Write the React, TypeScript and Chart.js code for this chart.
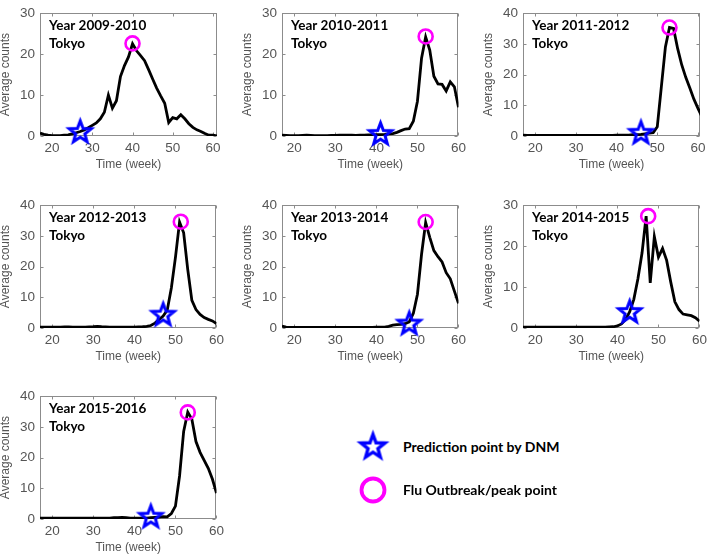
import React, { useEffect, useRef } from "react";
import { Chart, registerables } from "chart.js";

Chart.register(...registerables);

// ---------- data ----------
const weeks = [17, 18, 19, 20, 21, 22, 23, 24, 25, 26, 27, 28, 29, 30, 31, 32, 33, 34, 35, 36, 37, 38, 39, 40, 41, 42, 43, 44, 45, 46, 47, 48, 49, 50, 51, 52, 53, 54, 55, 56, 57, 58, 59, 60, 61];
const xTickValues = [20, 30, 40, 50, 60];

const seasonTitles = ["Year 2009-2010", "Year 2010-2011", "Year 2011-2012", "Year 2012-2013", "Year 2013-2014", "Year 2014-2015", "Year 2015-2016"];
const cityName = "Tokyo";
const xAxisTitle = "Time (week)";
const yAxisTitle = "Average counts";
const legendLabels = ["Prediction point by DNM", "Flu Outbreak/peak point"];

const yMaxes = [30, 30, 40, 40, 40, 30, 40];
const xMaxes = [61, 60, 60.5, 60, 60, 60, 60];

const counts2009_2010 = [0.7, 0.4, 0.2, 0.1, 0.1, 0.1, 0.2, 0.3, 0.5, 0.8, 1.1, 1.5, 2.0, 2.6, 3.2, 4.2, 5.8, 10.0, 6.8, 8.6, 14.5, 17.2, 19.3, 22.5, 20.8, 19.6, 18.4, 16.2, 13.9, 11.7, 9.8, 8.0, 3.3, 4.5, 4.2, 5.2, 4.2, 3.0, 2.1, 1.5, 1.1, 0.6, 0.2, 0.2, 0.0];
const counts2010_2011 = [0.2, 0.15, 0.1, 0.1, 0.1, 0.15, 0.2, 0.15, 0.1, 0.1, 0.1, 0.1, 0.15, 0.15, 0.2, 0.2, 0.2, 0.2, 0.15, 0.2, 0.2, 0.25, 0.25, 0.3, 0.35, 0.4, 0.5, 0.6, 0.9, 1.3, 1.7, 1.8, 3.6, 8.5, 19.0, 24.2, 21.0, 14.6, 12.7, 12.6, 11.0, 13.2, 12.0, 7.0];
const counts2011_2012 = [0.3, 0.2, 0.2, 0.2, 0.2, 0.2, 0.2, 0.2, 0.2, 0.2, 0.2, 0.2, 0.2, 0.2, 0.2, 0.2, 0.2, 0.2, 0.2, 0.2, 0.2, 0.2, 0.2, 0.3, 0.3, 0.3, 0.3, 0.4, 0.4, 0.5, 0.7, 0.9, 1.1, 3.0, 16.0, 29.0, 35.3, 35.0, 28.5, 23.2, 19.1, 15.6, 12.0, 9.0, 6.2];
const counts2012_2013 = [0.3, 0.3, 0.3, 0.3, 0.3, 0.3, 0.35, 0.35, 0.3, 0.3, 0.3, 0.3, 0.35, 0.4, 0.5, 0.4, 0.35, 0.3, 0.3, 0.3, 0.3, 0.3, 0.3, 0.3, 0.35, 0.4, 0.5, 0.8, 1.6, 2.7, 3.9, 5.8, 13.0, 23.0, 34.5, 31.0, 19.0, 9.0, 6.0, 4.4, 3.4, 2.8, 2.3, 1.4];
const counts2013_2014 = [0.6, 0.3, 0.2, 0.2, 0.2, 0.2, 0.2, 0.2, 0.2, 0.2, 0.2, 0.2, 0.2, 0.2, 0.2, 0.2, 0.2, 0.2, 0.2, 0.2, 0.2, 0.2, 0.2, 0.25, 0.3, 0.3, 0.5, 0.9, 1.1, 1.2, 1.4, 2.0, 4.8, 11.0, 24.0, 34.3, 29.5, 25.2, 23.2, 21.5, 18.0, 16.0, 12.0, 8.0];
const counts2014_2015 = [0.2, 0.2, 0.2, 0.2, 0.2, 0.2, 0.2, 0.2, 0.2, 0.2, 0.2, 0.2, 0.2, 0.2, 0.2, 0.2, 0.2, 0.2, 0.2, 0.2, 0.2, 0.25, 0.3, 0.5, 1.0, 2.1, 4.0, 7.0, 12.0, 18.3, 27.3, 11.0, 22.3, 17.3, 19.4, 16.5, 11.2, 6.4, 4.5, 3.4, 3.2, 3.0, 2.5, 1.7];
const counts2015_2016 = [0.3, 0.3, 0.3, 0.3, 0.3, 0.3, 0.3, 0.3, 0.3, 0.3, 0.3, 0.3, 0.3, 0.3, 0.3, 0.3, 0.3, 0.3, 0.4, 0.4, 0.5, 0.4, 0.3, 0.3, 0.3, 0.3, 0.3, 0.4, 0.5, 0.6, 0.8, 0.7, 1.8, 4.2, 14.0, 28.5, 34.8, 32.5, 25.2, 21.7, 19.1, 16.5, 13.0, 8.4];

const predictionWeeks = [27, 41, 46, 47, 48, 43, 44];
const predictionValues = [0.9, 0.4, 0.9, 4.2, 1.3, 3.8, 0.6];
const peakWeeks = [40, 52, 53, 51.3, 52, 47.5, 53];
const peakValues = [22.6, 24.3, 35.3, 34.6, 34.5, 27.3, 34.7];

const seasonCounts = [counts2009_2010, counts2010_2011, counts2011_2012, counts2012_2013, counts2013_2014, counts2014_2015, counts2015_2016];

// ---------- layout / style ----------
const PLOT_W = 180;
const PLOT_H = 131;
const AXIS_L = 40;
const PAD_T = 5;
const PAD_R = 8;
const AXIS_B = 36;
const panelOrigins = [
  { left: 40, top: 5 },
  { left: 282, top: 5 },
  { left: 523, top: 5 },
  { left: 40, top: 197 },
  { left: 282, top: 197 },
  { left: 523, top: 197 },
  { left: 40, top: 388 },
];

const AXIS_FONT = "'Liberation Sans', Arial, sans-serif";
const LABEL_FONT = "Lato, 'Open Sans', sans-serif";
const AXIS_COLOR = "#555555";
const FRAME_COLOR = "#8c8c8c";
const STAR_COLOR = "#0000ff";
const PEAK_COLOR = "#ff00ff";

function makeStarCanvas(R: number, r: number, lw: number, color: string) {
  const size = Math.ceil(2 * (R + 2 * lw) + 2);
  const c = document.createElement("canvas");
  c.width = size;
  c.height = size;
  const ctx = c.getContext("2d")!;
  ctx.translate(size / 2, size / 2);
  ctx.beginPath();
  for (let i = 0; i < 10; i++) {
    const rad = i % 2 === 0 ? R : r;
    const ang = -Math.PI / 2 + (i * Math.PI) / 5;
    const px = rad * Math.cos(ang);
    const py = rad * Math.sin(ang);
    if (i === 0) ctx.moveTo(px, py);
    else ctx.lineTo(px, py);
  }
  ctx.closePath();
  ctx.lineJoin = "miter";
  ctx.strokeStyle = color;
  ctx.lineWidth = lw;
  ctx.stroke();
  return c;
}

const framePlugin = {
  id: "frame",
  beforeDatasetsDraw(chart: any, _args: any, opts: any) {
    const { ctx, chartArea: a, scales } = chart;
    ctx.save();
    ctx.strokeStyle = FRAME_COLOR;
    ctx.lineWidth = 1;
    const L = Math.round(a.left) + 0.5;
    const T = Math.round(a.top) + 0.5;
    const R = Math.round(a.right) - 0.5;
    const B = Math.round(a.bottom) - 0.5;
    ctx.strokeRect(L, T, R - L, B - T);
    const tl = 3;
    ctx.beginPath();
    for (const t of scales.x.ticks) {
      const px = Math.round(scales.x.getPixelForValue(t.value)) + 0.5;
      ctx.moveTo(px, B);
      ctx.lineTo(px, B - tl);
      ctx.moveTo(px, T);
      ctx.lineTo(px, T + tl);
    }
    for (const t of scales.y.ticks) {
      const py = Math.round(scales.y.getPixelForValue(t.value)) + 0.5;
      ctx.moveTo(L, py);
      ctx.lineTo(L + tl, py);
      ctx.moveTo(R, py);
      ctx.lineTo(R - tl, py);
    }
    ctx.stroke();
    // in-plot labels
    ctx.fillStyle = "#000";
    ctx.font = `bold 13.5px ${LABEL_FONT}`;
    ctx.textBaseline = "middle";
    ctx.textAlign = "left";
    ctx.fillText(opts.title, a.left + 9, a.top + 13);
    ctx.fillText(opts.city, a.left + 9, a.top + 31);
    ctx.restore();
  },
};

function Panel({ index }: { index: number }) {
  const ref = useRef<HTMLCanvasElement | null>(null);
  useEffect(() => {
    const canvas = ref.current!;
    const counts = seasonCounts[index];
    const lineData = counts.map((v, i) => ({ x: weeks[i], y: v }));
    const star = makeStarCanvas(11.5, 4.8, 3, STAR_COLOR);
    const chart = new Chart(canvas, {
      type: "line",
      data: {
        datasets: [
          {
            data: lineData,
            borderColor: "#000",
            borderWidth: 2.8,
            pointRadius: 0,
            tension: 0,
            fill: false,
            order: 10,
          } as any,
          {
            data: [{ x: predictionWeeks[index], y: predictionValues[index] }],
            showLine: false,
            pointStyle: star,
            pointRadius: 10,
            clip: false,
            order: 1,
          } as any,
          {
            data: [{ x: peakWeeks[index], y: peakValues[index] }],
            showLine: false,
            pointStyle: "circle",
            pointRadius: 7,
            borderWidth: 2.6,
            borderColor: PEAK_COLOR,
            backgroundColor: "rgba(0,0,0,0)",
            clip: false,
            order: 0,
          } as any,
        ],
      },
      options: {
        responsive: false,
        maintainAspectRatio: false,
        animation: false,
        events: [],
        layout: { padding: { left: 0, top: PAD_T, right: PAD_R, bottom: 0 } },
        plugins: {
          legend: { display: false },
          tooltip: { enabled: false },
          frame: { title: seasonTitles[index], city: cityName },
        } as any,
        scales: {
          x: {
            type: "linear",
            min: 17,
            max: xMaxes[index],
            grid: { display: false, drawTicks: false },
            border: { display: false },
            afterBuildTicks: (ax: any) => {
              ax.ticks = xTickValues.map((v) => ({ value: v }));
            },
            afterFit: (ax: any) => {
              ax.height = AXIS_B;
            },
            ticks: {
              color: AXIS_COLOR,
              font: { family: AXIS_FONT, size: 13.5 },
              padding: 4,
              maxRotation: 0,
              autoSkip: false,
            },
            title: {
              display: true,
              text: xAxisTitle,
              color: AXIS_COLOR,
              font: { family: AXIS_FONT, size: 12, lineHeight: 1 },
              padding: { top: 0, bottom: 1 },
            },
          },
          y: {
            type: "linear",
            min: 0,
            max: yMaxes[index],
            grid: { display: false, drawTicks: false },
            border: { display: false },
            afterFit: (ax: any) => {
              ax.width = AXIS_L;
            },
            ticks: {
              stepSize: 10,
              color: AXIS_COLOR,
              font: { family: AXIS_FONT, size: 13.5 },
              padding: 5,
            },
            title: {
              display: true,
              text: yAxisTitle,
              color: AXIS_COLOR,
              font: { family: AXIS_FONT, size: 12, lineHeight: 1 },
              padding: { top: 0, bottom: 0 },
            },
          },
        },
      } as any,
      plugins: [framePlugin as any],
    });
    return () => chart.destroy();
  }, [index]);

  const o = panelOrigins[index];
  const w = AXIS_L + PLOT_W + PAD_R;
  const h = PAD_T + PLOT_H + AXIS_B;
  return (
    <canvas
      ref={ref}
      width={w}
      height={h}
      style={{ position: "absolute", left: o.left - AXIS_L, top: o.top - PAD_T, width: w, height: h }}
    />
  );
}

function LegendIcon({ kind }: { kind: "star" | "circle" }) {
  const ref = useRef<HTMLCanvasElement | null>(null);
  useEffect(() => {
    const c = ref.current!;
    const ctx = c.getContext("2d")!;
    ctx.clearRect(0, 0, c.width, c.height);
    if (kind === "star") {
      const s = makeStarCanvas(12.5, 5.2, 3.4, STAR_COLOR);
      ctx.drawImage(s, (c.width - s.width) / 2, (c.height - s.height) / 2);
    } else {
      ctx.beginPath();
      ctx.arc(c.width / 2, c.height / 2, 11.5, 0, Math.PI * 2);
      ctx.strokeStyle = PEAK_COLOR;
      ctx.lineWidth = 3.8;
      ctx.stroke();
    }
  }, [kind]);
  return <canvas ref={ref} width={44} height={44} style={{ position: "absolute", left: -22, top: -22 }} />;
}

function Legend() {
  const rows = [
    { kind: "star" as const, cy: 447, label: legendLabels[0] },
    { kind: "circle" as const, cy: 490, label: legendLabels[1] },
  ];
  return (
    <>
      {rows.map((r) => (
        <div key={r.label}>
          <div style={{ position: "absolute", left: 373, top: r.cy, width: 0, height: 0 }}>
            <LegendIcon kind={r.kind} />
          </div>
          <div
            style={{
              position: "absolute",
              left: 403,
              top: r.cy - 10,
              height: 20,
              lineHeight: "20px",
              fontFamily: LABEL_FONT,
              fontWeight: 700,
              fontSize: 14,
              color: "#000",
              whiteSpace: "nowrap",
            }}
          >
            {r.label}
          </div>
        </div>
      ))}
    </>
  );
}

export default function App() {
  return (
    <div
      style={{
        position: "absolute",
        left: 0,
        top: 0,
        width: 709,
        height: 556,
        background: "#fff",
        overflow: "hidden",
      }}
    >
      {seasonCounts.map((_, i) => (
        <Panel key={i} index={i} />
      ))}
      <Legend />
    </div>
  );
}
